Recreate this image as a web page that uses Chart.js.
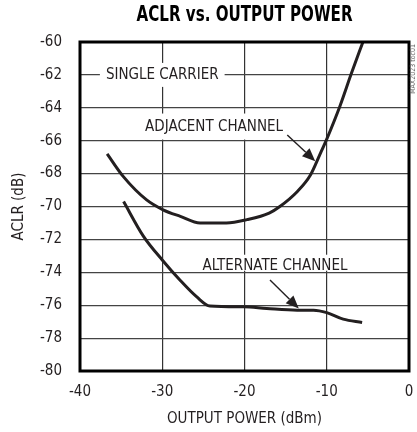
<!DOCTYPE html>
<html>
<head>
<meta charset="utf-8">
<script src="https://cdn.jsdelivr.net/npm/chart.js@4.4.1/dist/chart.umd.min.js"></script>
<style>
  html, body { margin: 0; padding: 0; background: #fff; }
  #wrap { width: 417px; height: 432px; }
</style>
</head>
<body>
<div id="wrap"><canvas id="aclrChart" width="417" height="432"></canvas></div>
<script>
// ACLR vs output power
var adjacentPower = [-36.7, -34.7, -31.9, -29.9, -27.8, -25.4, -22.2, -19.7, -17.0, -15.7, -13.6, -12.0, -10.8, -10.0, -8.4, -7.0, -5.6];
var adjacentAclr  = [-66.8, -68.2, -69.6, -70.2, -70.6, -71.0, -71.0, -70.8, -70.4, -70.0, -69.1, -68.1, -66.8, -65.9, -63.9, -61.9, -60.0];

var alternatePower = [-34.7, -32.3, -30.0, -27.8, -25.8, -24.2, -20.1, -17.3, -13.6, -11.6, -10.0, -8.0, -5.7];
var alternateAclr  = [-69.7, -71.8, -73.25, -74.5, -75.5, -76.05, -76.1, -76.2, -76.3, -76.3, -76.45, -76.85, -77.05];

var xTicks = [-40, -30, -20, -10, 0];
var yTicks = [-80, -78, -76, -74, -72, -70, -68, -66, -64, -62, -60];

// curve labels (data coords of text centre) and their arrows
var noteText = ['SINGLE CARRIER', 'ADJACENT CHANNEL', 'ALTERNATE CHANNEL'];
var noteX = [-30.0, -23.7, -16.3];
var noteY = [-62.0, -65.2, -73.6];
var arrowFrom = [null, [-14.8, -65.65], [-16.9, -74.47]];
var arrowTo   = [null, [-11.4, -67.25], [-13.4, -76.2]];

var INK = '#231f20';
var NARROW = "'Liberation Sans Narrow', 'DejaVu Sans Condensed', 'Roboto', sans-serif";

function toPoints(xs, ys) {
    return xs.map(function (x, i) { return {x: x, y: ys[i]}; });
}

function noteBox(ctx, chart, i) {
    var xs = chart.scales.x, ys = chart.scales.y;
    ctx.font = '15px ' + NARROW;
    var w = ctx.measureText(noteText[i]).width;
    var cx = xs.getPixelForValue(noteX[i]);
    var cy = ys.getPixelForValue(noteY[i]);
    return {cx: cx, cy: cy, w: w};
}

function drawArrow(ctx, x0, y0, x1, y1) {
    var ang = Math.atan2(y1 - y0, x1 - x0);
    var len = 13, half = 5.5;
    ctx.strokeStyle = INK;
    ctx.fillStyle = INK;
    ctx.lineWidth = 1.4;
    ctx.beginPath();
    ctx.moveTo(x0, y0);
    ctx.lineTo(x1 - Math.cos(ang) * len, y1 - Math.sin(ang) * len);
    ctx.stroke();
    ctx.beginPath();
    ctx.moveTo(x1, y1);
    ctx.lineTo(x1 - Math.cos(ang) * len - Math.sin(ang) * half, y1 - Math.sin(ang) * len + Math.cos(ang) * half);
    ctx.lineTo(x1 - Math.cos(ang) * len + Math.sin(ang) * half, y1 - Math.sin(ang) * len - Math.cos(ang) * half);
    ctx.closePath();
    ctx.fill();
}

var notesPlugin = {
    id: 'notes',
    beforeDatasetsDraw: function (chart) {
        // white patches so the grid stops around the labels
        var ctx = chart.ctx;
        ctx.save();
        ctx.fillStyle = '#fff';
        for (var i = 0; i < noteText.length; i++) {
            var b = noteBox(ctx, chart, i);
            if (i === 0) {
                ctx.fillRect(b.cx - b.w / 2 - 6, b.cy - 12, b.w + 12, 24);
            } else if (i === 1) {
                ctx.fillRect(b.cx - b.w / 2 - 3, b.cy - 14, b.w + 6, 26);
            } else {
                ctx.fillRect(b.cx - b.w / 2 - 2, b.cy - 11, b.w + 4, 16);
            }
        }
        ctx.restore();
    },
    afterDraw: function (chart) {
        var ctx = chart.ctx;
        var a = chart.chartArea;
        var xs = chart.scales.x, ys = chart.scales.y;
        ctx.save();

        // heavy frame
        ctx.strokeStyle = '#000';
        ctx.lineWidth = 3;
        ctx.strokeRect(a.left, a.top, a.right - a.left, a.bottom - a.top);

        // title, squeezed to look like a condensed black face
        ctx.save();
        ctx.translate((a.left + a.right) / 2, 16);
        ctx.scale(0.8, 1);
        ctx.font = 'bold 21px ' + NARROW;
        ctx.fillStyle = '#000';
        ctx.textAlign = 'center';
        ctx.textBaseline = 'middle';
        ctx.fillText('ACLR vs. OUTPUT POWER', 0, 0);
        ctx.restore();

        // labels
        ctx.fillStyle = INK;
        ctx.textAlign = 'center';
        ctx.textBaseline = 'middle';
        for (var i = 0; i < noteText.length; i++) {
            var b = noteBox(ctx, chart, i);
            ctx.fillText(noteText[i], b.cx, b.cy);
            if (arrowFrom[i]) {
                drawArrow(ctx,
                    xs.getPixelForValue(arrowFrom[i][0]), ys.getPixelForValue(arrowFrom[i][1]),
                    xs.getPixelForValue(arrowTo[i][0]), ys.getPixelForValue(arrowTo[i][1]));
            }
        }

        // part number tag up the right edge
        ctx.translate(a.right + 4, a.top + 2);
        ctx.rotate(-Math.PI / 2);
        ctx.font = '7px ' + NARROW;
        ctx.fillStyle = '#666';
        ctx.textAlign = 'right';
        ctx.textBaseline = 'middle';
        ctx.fillText('MAX2023 toc01', 0, 0);
        ctx.restore();
    }
};

var ctx = document.getElementById('aclrChart').getContext('2d');
new Chart(ctx, {
    type: 'scatter',
    data: {
        datasets: [
            {
                label: 'Adjacent channel',
                data: toPoints(adjacentPower, adjacentAclr),
                showLine: true,
                borderColor: INK,
                borderWidth: 3,
                pointRadius: 0,
                cubicInterpolationMode: 'monotone'
            },
            {
                label: 'Alternate channel',
                data: toPoints(alternatePower, alternateAclr),
                showLine: true,
                borderColor: INK,
                borderWidth: 3,
                pointRadius: 0,
                cubicInterpolationMode: 'monotone'
            }
        ]
    },
    options: {
        responsive: false,
        animation: false,
        layout: { padding: { left: 0, right: 0, top: 42, bottom: 0 } },
        plugins: {
            legend: { display: false },
            tooltip: { enabled: false },
            title: { display: false }
        },
        scales: {
            x: {
                type: 'linear',
                min: -40,
                max: 0,
                afterFit: function (s) { s.height = 61; s.paddingRight = 8; },
                afterBuildTicks: function (s) { s.ticks = xTicks.map(function (v) { return {value: v}; }); },
                grid: { color: '#333', lineWidth: 1.2, drawTicks: false },
                border: { display: false },
                ticks: { color: INK, padding: 12, font: { family: NARROW, size: 15 } },
                title: {
                    display: true,
                    text: 'OUTPUT POWER (dBm)',
                    color: INK,
                    font: { family: NARROW, size: 15 },
                    padding: { top: 0, bottom: 4 }
                }
            },
            y: {
                type: 'linear',
                min: -80,
                max: -60,
                afterFit: function (s) { s.width = 80; },
                afterBuildTicks: function (s) { s.ticks = yTicks.map(function (v) { return {value: v}; }); },
                grid: { color: '#444', lineWidth: 1.2, drawTicks: false },
                border: { display: false },
                ticks: { color: INK, padding: 18, font: { family: NARROW, size: 15 } },
                title: {
                    display: true,
                    text: 'ACLR (dB)',
                    color: INK,
                    font: { family: NARROW, size: 15 },
                    padding: { top: 10, bottom: 0 }
                }
            }
        }
    },
    plugins: [notesPlugin]
});
</script>
</body>
</html>
